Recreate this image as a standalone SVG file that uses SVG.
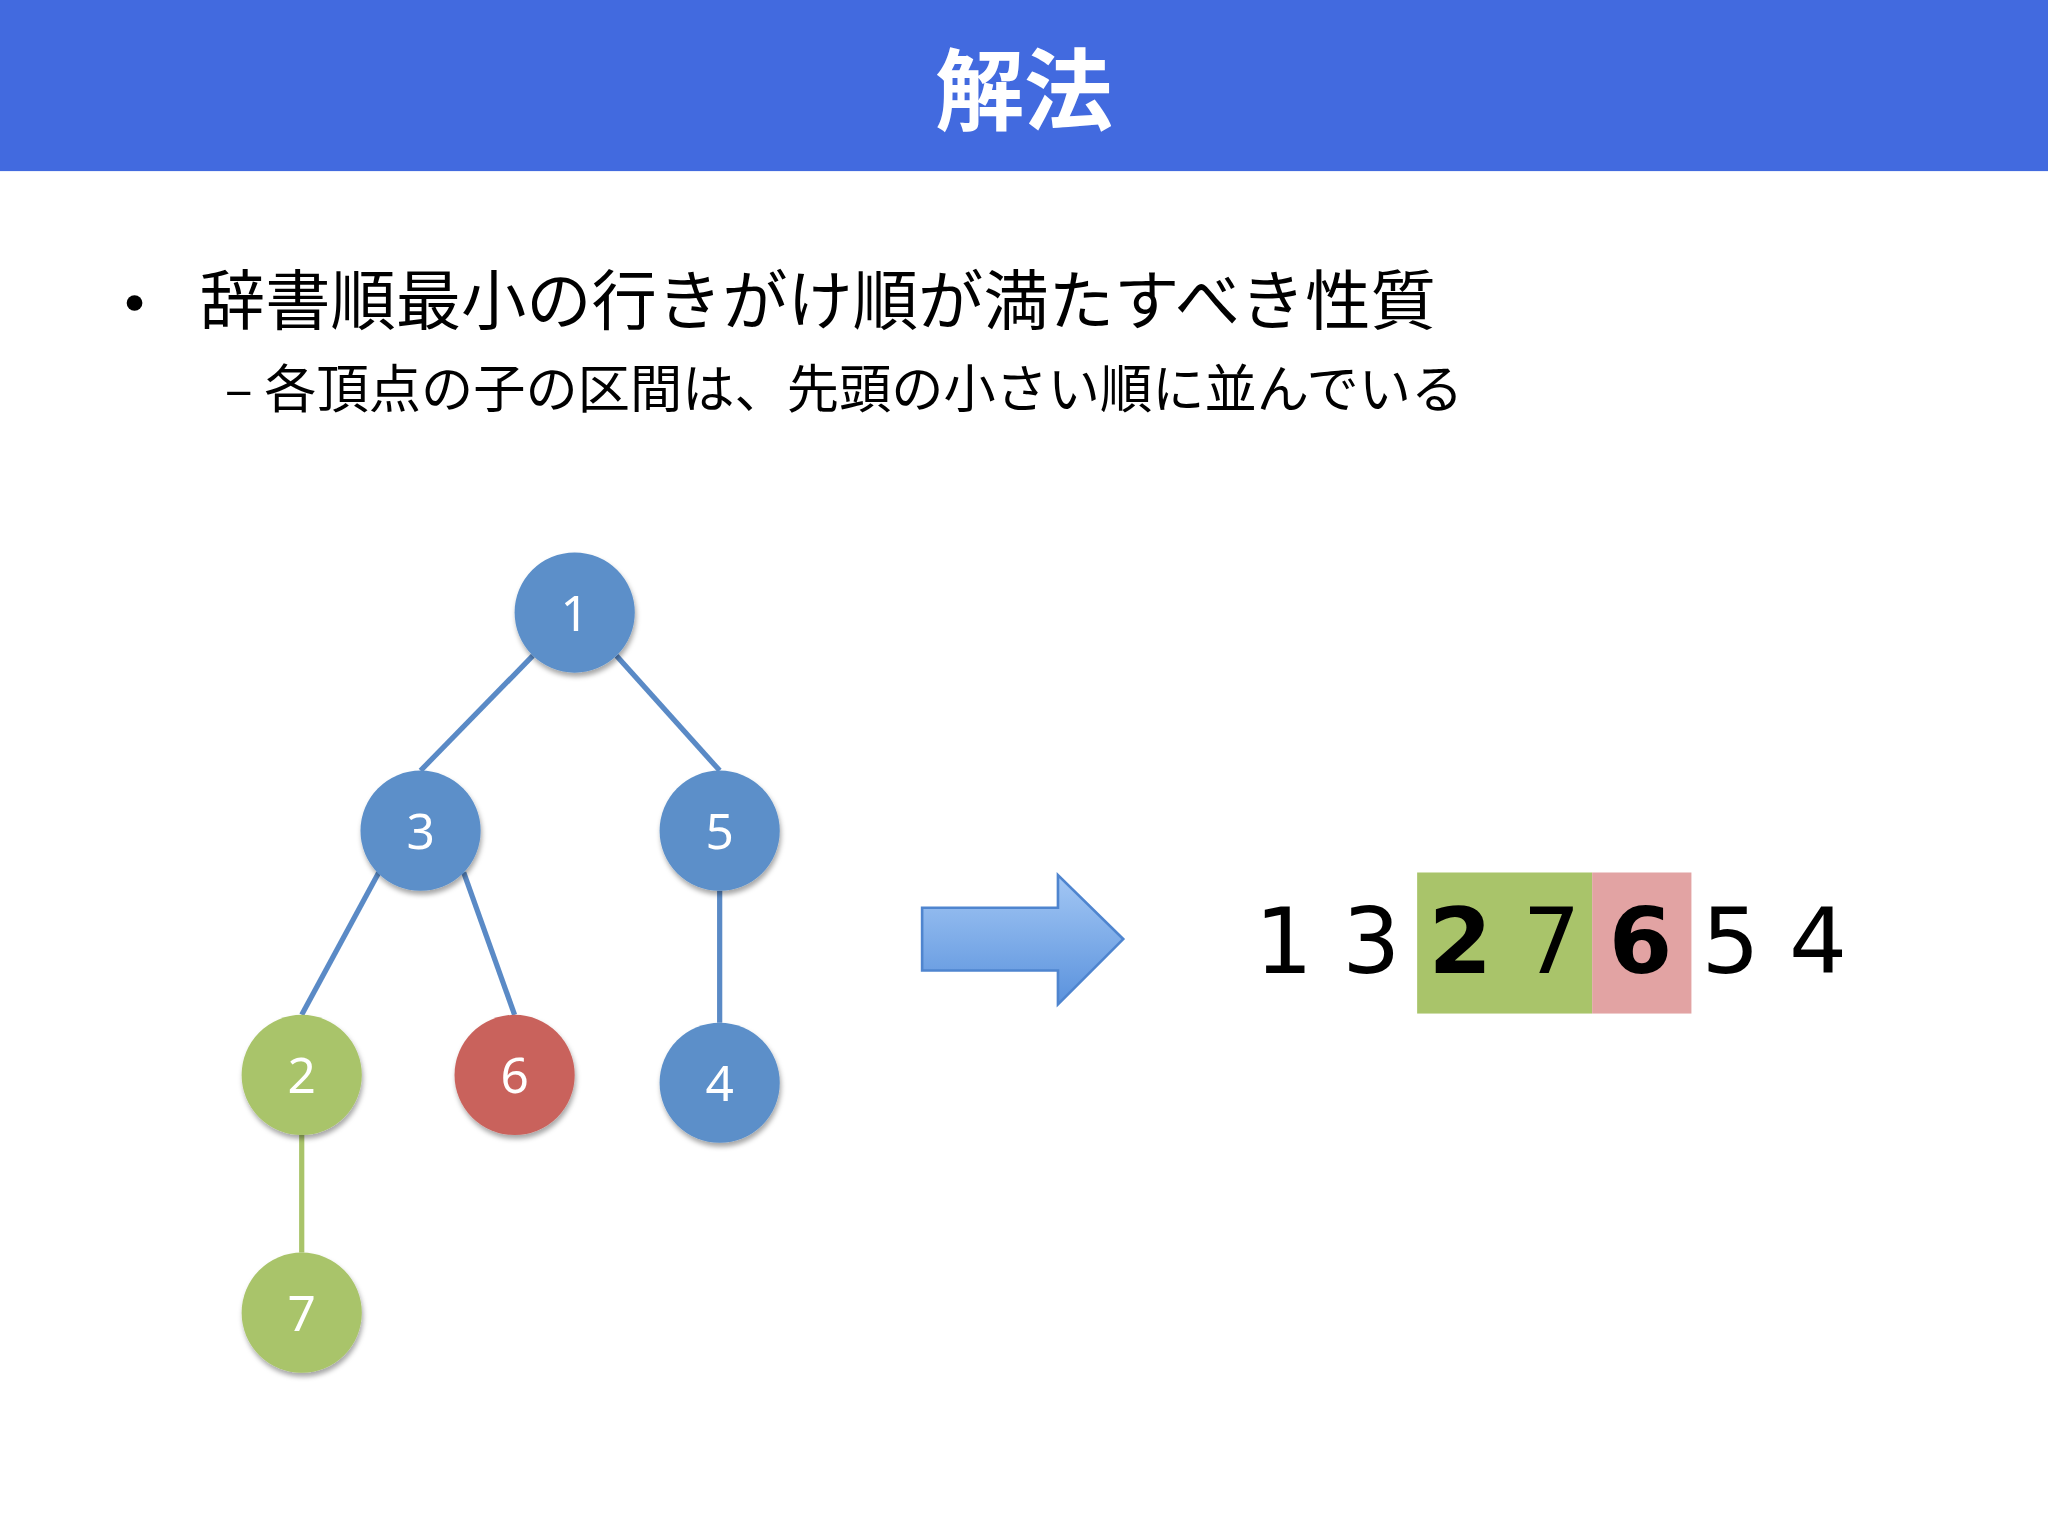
<svg xmlns="http://www.w3.org/2000/svg" width="2048" height="1536" viewBox="0 0 2048 1536">
<defs>
<style>
.t{font-family:"Noto Sans CJK JP","Noto Sans",sans-serif;fill:#000}
.n{font-family:"Noto Sans","DejaVu Sans",sans-serif;font-size:38px;fill:#fff;text-anchor:middle}
.d{font-family:"DejaVu Sans","Noto Sans",sans-serif;font-size:70px;fill:#000;text-anchor:middle}
.e{stroke:#5A8AC6;stroke-width:4;fill:none}
</style>
<linearGradient id="ag" x1="0" y1="0" x2="0" y2="1"><stop offset="0" stop-color="#A3C7F4"/><stop offset="1" stop-color="#5A92DD"/></linearGradient>
<filter id="sh" x="-30%" y="-30%" width="160%" height="160%"><feDropShadow dx="1" dy="3" stdDeviation="2" flood-opacity="0.35"/></filter>
</defs>
<rect width="2048" height="1536" fill="#fff"/>
<g transform="scale(1.30612)">
<rect x="0" y="0" width="1568" height="131" fill="#426ADF"/>
<text x="784" y="94" font-family="Noto Sans CJK JP,sans-serif" font-weight="bold" font-size="68" fill="#fff" text-anchor="middle">解法</text>
<circle cx="103" cy="232" r="6" fill="#000"/>
<text class="t" x="153" y="248" font-size="50">辞書順最小の行きがけ順が満たすべき性質</text>
<text class="t" x="172" y="312" font-size="40">– 各頂点の子の区間は、先頭の小さい順に並んでいる</text>
<g id="edges">
<line class="e" x1="408" y1="502" x2="322" y2="590"/>
<line class="e" x1="472" y1="502" x2="551" y2="590"/>
<line class="e" x1="290" y1="668" x2="231" y2="777"/>
<line class="e" x1="355" y1="668" x2="394" y2="777"/>
<line class="e" x1="551" y1="682" x2="551" y2="783"/>
<line class="e" x1="231" y1="869" x2="231" y2="959" style="stroke:#A9C46A"/>
</g>
<g id="n1" filter="url(#sh)"><circle cx="440" cy="469" r="46" fill="#5B8FC9"/><text class="n" x="440" y="483">1</text></g>
<g id="n3" filter="url(#sh)"><circle cx="322" cy="636" r="46" fill="#5B8FC9"/><text class="n" x="322" y="650">3</text></g>
<g id="n5" filter="url(#sh)"><circle cx="551" cy="636" r="46" fill="#5B8FC9"/><text class="n" x="551" y="650">5</text></g>
<g id="n2" filter="url(#sh)"><circle cx="231" cy="823" r="46" fill="#A9C46A"/><text class="n" x="231" y="837">2</text></g>
<g id="n6" filter="url(#sh)"><circle cx="394" cy="823" r="46" fill="#C9625C"/><text class="n" x="394" y="837">6</text></g>
<g id="n4" filter="url(#sh)"><circle cx="551" cy="829" r="46" fill="#5B8FC9"/><text class="n" x="551" y="843">4</text></g>
<g id="n7" filter="url(#sh)"><circle cx="231" cy="1005" r="46" fill="#A9C46A"/><text class="n" x="231" y="1019">7</text></g>
<g id="arrow"><path d="M706,695 H810 V670 L860,719 L810,769 V743 H706 Z" fill="url(#ag)" stroke="#4F85CF" stroke-width="2"/></g>
<g id="seq">
<rect x="1085" y="668" width="134" height="108" fill="#A9C46A"/>
<rect x="1219" y="668" width="76" height="108" fill="#E2A3A3"/>
<text class="d" x="983" y="745">1</text>
<text class="d" x="1050" y="745">3</text>
<text class="d" x="1118" y="745" font-weight="bold">2</text>
<text class="d" x="1188" y="745">7</text>
<text class="d" x="1256" y="745" font-weight="bold">6</text>
<text class="d" x="1325" y="745">5</text>
<text class="d" x="1392" y="745">4</text>
</g>
</g>
</svg>
